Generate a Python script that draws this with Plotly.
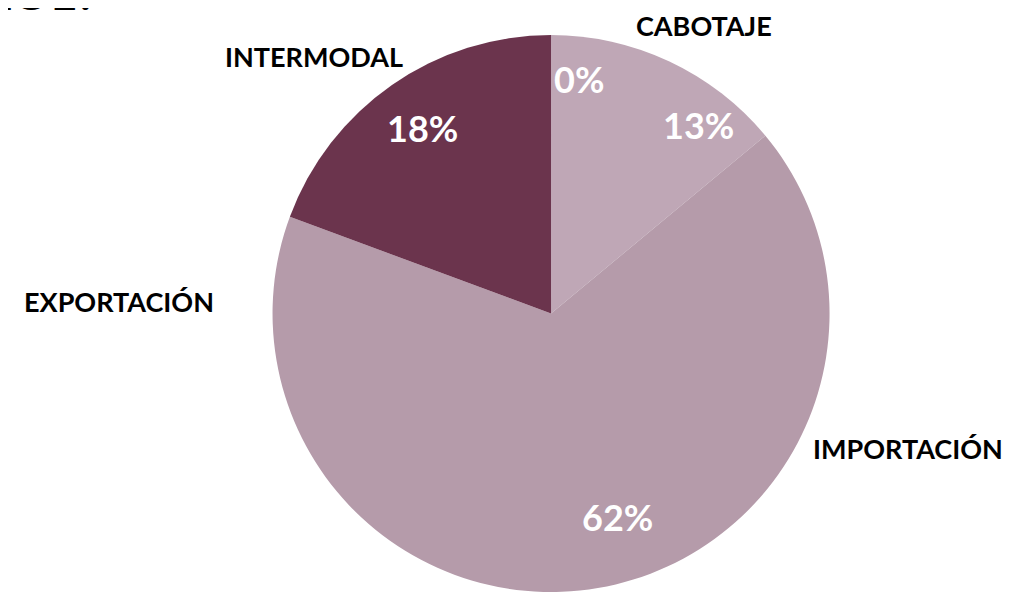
import plotly.graph_objects as go

# Data (clockwise from 12 o'clock)
categories = ["EXPORTACIÓN", "CABOTAJE", "IMPORTACIÓN", "INTERMODAL"]
values = [0, 13, 62, 18]
pct_labels = ["0%", "13%", "62%", "18%"]
colors = ["#BFA7B6", "#BFA7B6", "#B59BAA", "#6B344D"]

# Label placements (paper coords)
label_pos = {
    "CABOTAJE": (0.6792, 0.9706),
    "INTERMODAL": (0.2987, 0.918),
    "EXPORTACIÓN": (0.1082, 0.5038),
    "IMPORTACIÓN": (0.8776, 0.2565),
}
pct_pos = [(0.5572, 0.8802), (0.6732, 0.8025), (0.595, 0.1401), (0.4041, 0.7973)]

fig = go.Figure(
    go.Pie(
        labels=categories,
        values=values,
        text=pct_labels,
        textinfo="none",
        sort=False,
        direction="clockwise",
        rotation=0,
        marker=dict(colors=colors, line=dict(width=0)),
        showlegend=False,
        domain=dict(x=[0.2576, 0.802], y=[0.0135, 0.9544]),
        hoverinfo="label+text",
    )
)

annotations = []
for name, (x, y) in label_pos.items():
    annotations.append(
        dict(
            text=name, x=x, y=y, xref="paper", yref="paper",
            xanchor="center", yanchor="middle", showarrow=False,
            font=dict(family="Lato", size=27, color="black", weight="bold"),
        )
    )
for lab, (x, y) in zip(pct_labels, pct_pos):
    annotations.append(
        dict(
            text=lab, x=x, y=y, xref="paper", yref="paper",
            xanchor="center", yanchor="middle", showarrow=False,
            font=dict(family="Lato", size=36, color="white", weight="bold"),
        )
    )

# cropped title fragment at top-left (cut off by the top edge, as in the reference)
annotations.append(
    dict(
        text="EOL?", x=0.0898, y=0.9765, xref="paper", yref="paper",
        xanchor="right", yanchor="bottom", showarrow=False,
        font=dict(family="Lato", size=48, color="black", weight="bold"),
    )
)

fig.update_layout(
    width=1025,
    height=592,
    margin=dict(l=0, r=0, t=0, b=0),
    paper_bgcolor="white",
    plot_bgcolor="white",
    annotations=annotations,
)

fig.write_html("out.html")
